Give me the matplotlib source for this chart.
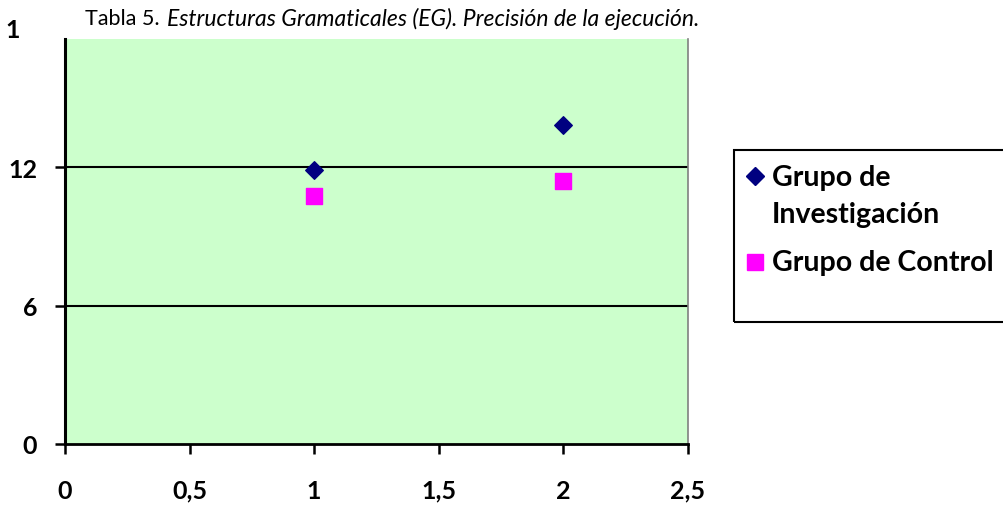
import matplotlib.pyplot as plt
from matplotlib.lines import Line2D
from matplotlib.patches import Rectangle

plt.rcParams['font.family'] = ['Lato', 'DejaVu Sans']

# data
x_vals = [1, 2]
investigacion = [11.87, 13.82]
control = [10.74, 11.4]

x_ticks = [0, 0.5, 1, 1.5, 2, 2.5]
x_labels = ["0", "0,5", "1", "1,5", "2", "2,5"]
y_ticks = [0, 6, 12]
y_labels = ["0", "6", "12"]

W, H = 1004, 510

fig = plt.figure(figsize=(W / 100, H / 100), dpi=100)
ax = fig.add_axes([0.0647, 0.1275, 0.6205, 0.794])
ax.set_facecolor("#CCFFCC")

ax.scatter(x_vals, investigacion, marker="D", s=80, color="#000080", zorder=3)
ax.scatter(x_vals, control, marker="s", s=130, color="#FF00FF", zorder=3)

ax.set_xlim(0, 2.5)
ax.set_ylim(0, 17.55)
ax.set_xticks(x_ticks)
ax.set_xticklabels(x_labels)
ax.set_yticks(y_ticks)
ax.set_yticklabels(y_labels)
for v in [6, 12]:
    ax.axhline(v, color="black", lw=1.5, zorder=1)

ax.tick_params(axis="x", direction="out", length=7, width=1.8, pad=18,
               labelsize=18)
ax.tick_params(axis="y", direction="out", length=7, width=1.8, pad=13,
               labelsize=18)
for lbl in ax.get_xticklabels() + ax.get_yticklabels():
    lbl.set_fontweight("bold")

ax.spines["top"].set_visible(False)
ax.spines["right"].set_color("#808080")
ax.spines["right"].set_linewidth(1.2)
ax.spines["left"].set_linewidth(2.2)
ax.spines["bottom"].set_linewidth(2)

# clipped "18" label at the top
fig.text(13 / W, 1 - 30 / H, "1", fontsize=18, fontweight="bold",
         ha="center", va="center")

# title
fig.text(85 / W, 1 - 19 / H, "Tabla 5.", fontsize=15.5, va="center")
fig.text(167 / W, 1 - 19 / H,
         "Estructuras Gramaticales (EG). Precisión de la ejecución.",
         fontsize=16.5, style="italic", va="center")

# legend box (drawn by hand so the diamond sits on the first text line)
fig.patches.append(Rectangle((734 / W, 1 - 323 / H), 0.3, 172 / H,
                             transform=fig.transFigure, fill=False,
                             edgecolor="black", lw=1.5))
fig.lines.append(Line2D([755 / W], [1 - 177 / H], marker="D", markersize=9,
                        color="#000080", transform=fig.transFigure))
fig.lines.append(Line2D([755 / W], [1 - 263 / H], marker="s", markersize=11,
                        color="#FF00FF", transform=fig.transFigure))
leg_font = dict(fontsize=20.5, fontweight="bold", va="center", ha="left")
fig.text(772 / W, 1 - 178 / H, "Grupo de", **leg_font)
fig.text(772 / W, 1 - 215 / H, "Investigación", **leg_font)
fig.text(772 / W, 1 - 263 / H, "Grupo de Control", **leg_font)

fig.savefig("out.png", dpi=100)
